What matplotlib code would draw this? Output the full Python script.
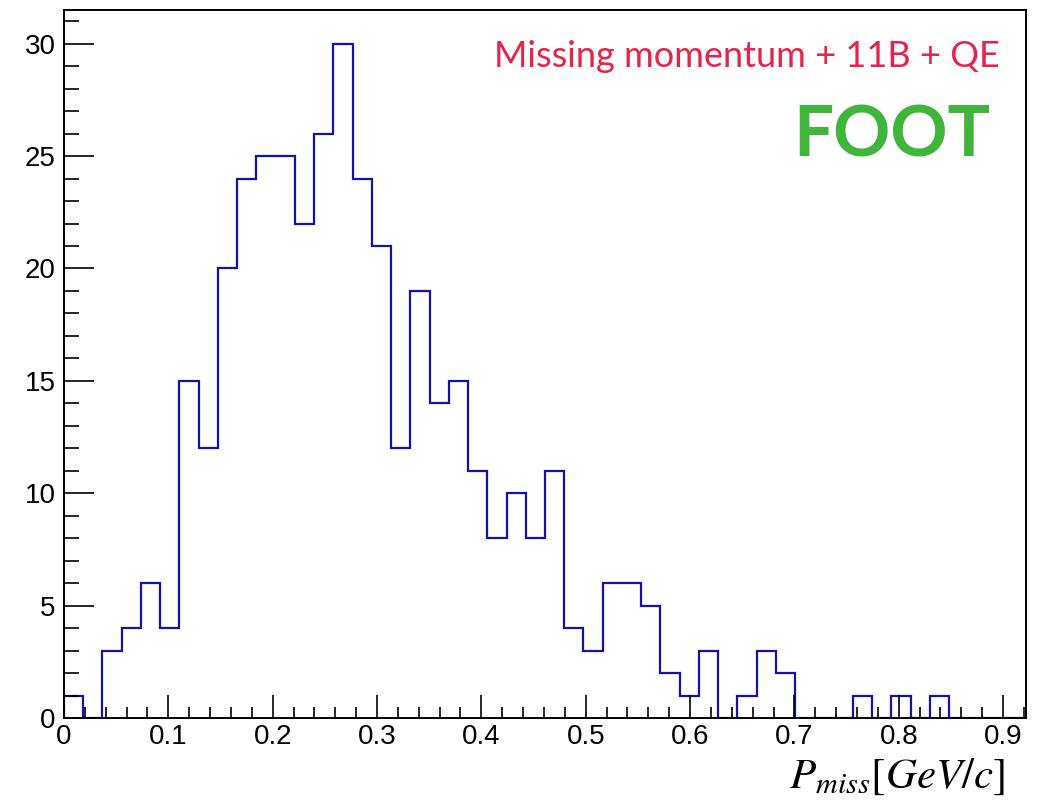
import numpy as np
import matplotlib.pyplot as plt
from matplotlib.ticker import MultipleLocator

plt.rcParams['font.family'] = ['Liberation Sans', 'DejaVu Sans']
plt.rcParams['mathtext.fontset'] = 'stix'

# histogram binning and contents (counts per bin)
x_min, x_max, n_bins = 0.0, 0.922, 50
counts = [1, 0, 3, 4, 6, 4, 15, 12, 20, 24,
          25, 25, 22, 26, 30, 24, 21, 12, 19, 14,
          15, 11, 8, 10, 8, 11, 4, 3, 6, 6,
          5, 2, 1, 3, 0, 1, 3, 2, 0, 0,
          0, 1, 0, 1, 0, 1, 0, 0, 0, 0]
edges = np.linspace(x_min, x_max, n_bins + 1)

title_text = "Missing momentum + 11B + QE"
tag_text = "FOOT"
x_label = r'$P_{miss}[GeV/c]$'

fig = plt.figure(figsize=(10.47, 8.11), dpi=100)
ax = fig.add_axes([0.0611, 0.1147, 0.9189, 0.873])

ax.stairs(counts, edges, color='#1212b0', linewidth=1.6)

ax.set_xlim(x_min, x_max)
ax.set_ylim(0, 1.05 * max(counts))

ax.xaxis.set_major_locator(MultipleLocator(0.1))
ax.xaxis.set_minor_locator(MultipleLocator(0.02))
ax.yaxis.set_major_locator(MultipleLocator(5))
ax.yaxis.set_minor_locator(MultipleLocator(1))
ax.xaxis.set_major_formatter(plt.FuncFormatter(lambda v, p: f"{v:g}"))

ax.tick_params(axis='x', which='major', direction='in', length=16.5, width=1.2,
               labelsize=20, pad=4)
ax.tick_params(axis='x', which='minor', direction='in', length=8, width=1.2)
ax.tick_params(axis='y', which='major', direction='in', length=21.5, width=1.2,
               labelsize=20, pad=6)
ax.tick_params(axis='y', which='minor', direction='in', length=11, width=1.2)
for s in ax.spines.values():
    s.set_linewidth(1.4)

ax.text(0.973, 0.934, title_text, transform=ax.transAxes, ha='right', va='center',
        color='#e4244a', fontsize=26, family=['Lato', 'DejaVu Sans'])
ax.text(0.963, 0.822, tag_text, transform=ax.transAxes, ha='right', va='center',
        color='#3fb53a', fontsize=51, fontweight='bold', family=['Lato', 'DejaVu Sans'])

fig.text(0.96, 0.028, x_label, ha='right', va='baseline', fontsize=31)

fig.savefig('out.png', dpi=100)
